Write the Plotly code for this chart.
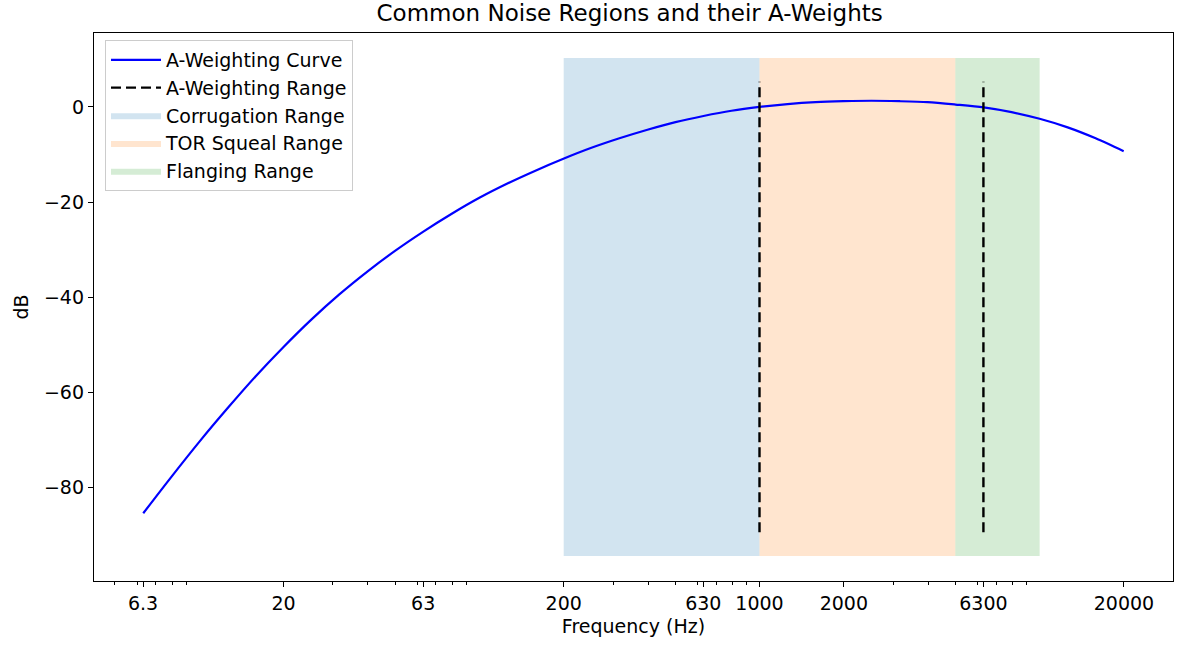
import plotly.graph_objects as go
import math

# ---- data ----
freqs = [6.31, 7.94, 10.0, 12.59, 15.85, 19.95, 25.12, 31.62, 39.81, 50.12, 63.10,
         79.43, 100.0, 125.9, 158.5, 199.5, 251.2, 316.2, 398.1, 501.2, 631.0,
         794.3, 1000, 1259, 1585, 1995, 2512, 3162, 3981, 5012, 6310, 7943,
         10000, 12589, 15849, 19953]
a_weights = [-85.4, -77.8, -70.4, -63.4, -56.7, -50.5, -44.7, -39.4, -34.6, -30.2,
             -26.2, -22.5, -19.1, -16.1, -13.4, -10.9, -8.6, -6.6, -4.8, -3.2,
             -1.9, -0.8, 0.0, 0.6, 1.0, 1.2, 1.3, 1.2, 1.0, 0.5, -0.1, -1.1,
             -2.5, -4.3, -6.6, -9.3]

range_lines = [1000, 6300]
range_line_low = -89.4
range_line_high = 5.3

span_names = ["Corrugation Range", "TOR Squeal Range", "Flanging Range"]
span_starts = [200, 1000, 5000]
span_ends = [1000, 5000, 10000]
span_low = -94.4
span_high = 10.3
span_colors = ["rgba(31,119,180,0.2)", "rgba(255,127,14,0.2)", "rgba(44,160,44,0.2)"]

x_tick_vals = [6.3, 20, 63, 200, 630, 1000, 2000, 6300, 20000]
x_tick_text = ["6.3", "20", "63", "200", "630", "1000", "2000", "6300", "20000"]
y_tick_vals = [0, -20, -40, -60, -80]
y_tick_text = ["0", "\u221220", "\u221240", "\u221260", "\u221280"]

minor_vals = [m * 10 ** k for k in range(0, 5) for m in range(2, 10)]

FONT = "DejaVu Sans"
FS = 19

fig = go.Figure()

# spans (drawn below lines)
for name, s, e, c in zip(span_names, span_starts, span_ends, span_colors):
    fig.add_trace(go.Scatter(
        x=[s, e, e, s, s], y=[span_low, span_low, span_high, span_high, span_low],
        mode="lines", fill="toself", fillcolor=c, line=dict(width=0),
        name=name, legendrank=3 + span_names.index(name), hoverinfo="skip"))

fig.add_trace(go.Scatter(x=freqs, y=a_weights, mode="lines",
                         line=dict(color="blue", width=2.2, shape="spline", smoothing=0.8),
                         name="A-Weighting Curve", legendrank=1))

for i, f in enumerate(range_lines):
    fig.add_trace(go.Scatter(x=[f, f], y=[range_line_low, range_line_high], mode="lines",
                             line=dict(color="black", width=2.4, dash="10px,5px"),
                             name="A-Weighting Range", legendrank=2,
                             legendgroup="range", showlegend=(i == 0)))

xmin = math.log10(6.3); xmax = math.log10(20000)
xpad = 0.05 * (xmax - xmin)
ypad = 0.05 * (span_high - span_low)

fig.update_layout(
    width=1177, height=648,
    margin=dict(l=94, r=4, t=33, b=67),
    plot_bgcolor="white", paper_bgcolor="white",
    font=dict(family=FONT, size=FS, color="black"),
    title=dict(text="Common Noise Regions and their A-Weights", x=0.535, xanchor="center",
               y=1 - 13 / 648, yanchor="middle", font=dict(size=23)),
    showlegend=True,
    legend=dict(x=0.0102, y=0.987, xanchor="left", yanchor="top",
                bgcolor="rgba(255,255,255,0.8)", bordercolor="#cccccc", borderwidth=1,
                font=dict(size=FS), traceorder="normal", itemwidth=50),
    xaxis=dict(type="log", range=[xmin - xpad, xmax + xpad],
               tickvals=x_tick_vals, ticktext=x_tick_text,
               ticks="outside", ticklen=5, tickwidth=1.3, tickcolor="black",
               showline=True, linecolor="black", linewidth=1.3, mirror=True,
               showgrid=False, zeroline=False,
               minor=dict(tickvals=minor_vals, ticks="outside", ticklen=3,
                          tickwidth=1, tickcolor="black", showgrid=False),
               title=dict(text="Frequency (Hz)", standoff=6, font=dict(size=FS))),
    yaxis=dict(range=[span_low - ypad, span_high + ypad],
               tickvals=y_tick_vals, ticktext=y_tick_text,
               ticks="outside", ticklen=5, tickwidth=1.3, tickcolor="black",
               showline=True, linecolor="black", linewidth=1.3, mirror=True,
               showgrid=False, zeroline=False,
               title=dict(text="dB", standoff=10, font=dict(size=FS))),
)

fig.write_html("out.html")
